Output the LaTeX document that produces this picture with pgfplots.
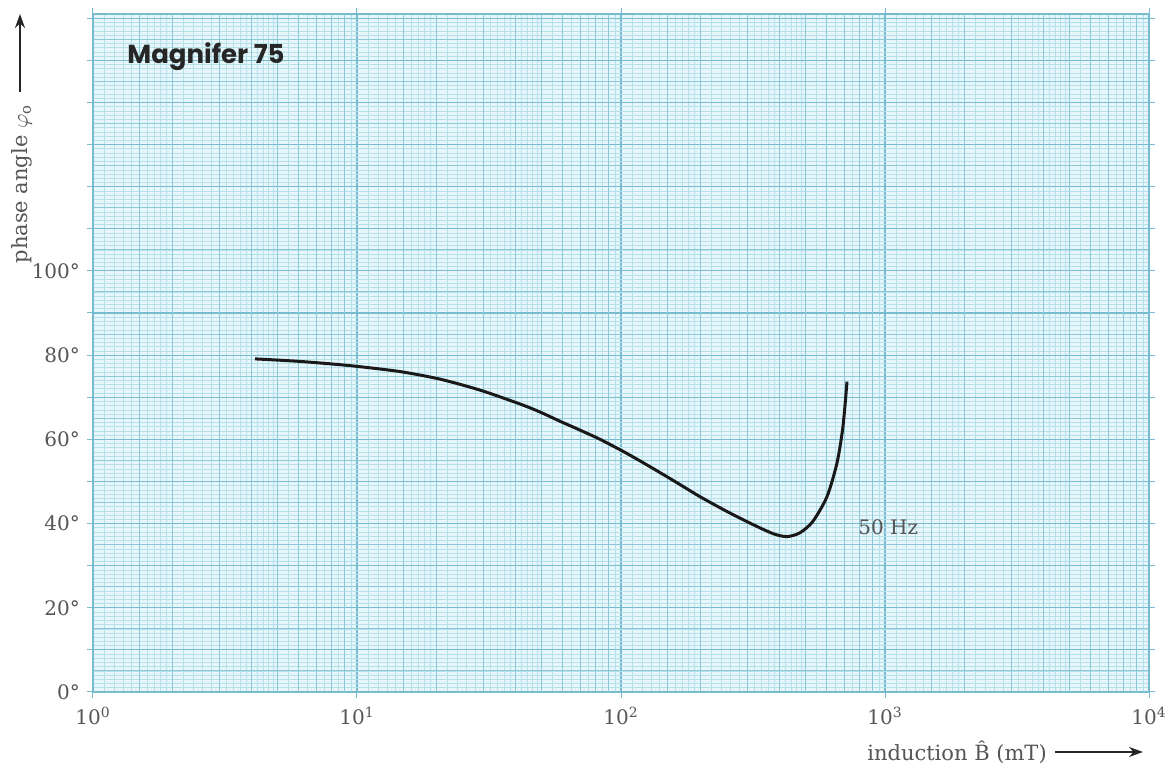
\documentclass[border=0pt]{standalone}
\usepackage{pgfplots}
\pgfplotsset{compat=1.18}
\usepackage{fontspec}
\setmainfont{DejaVu Serif}
\newfontfamily\titlefont{Poppins}
\usetikzlibrary{arrows.meta}
\definecolor{bgc}{RGB}{230,246,250}
\definecolor{gridfine}{RGB}{182,224,234}
\definecolor{gridmed}{RGB}{140,201,216}
\definecolor{griddark}{RGB}{118,188,206}
\definecolor{curvec}{RGB}{25,25,25}
\definecolor{lab}{RGB}{85,85,85}
\begin{document}
\begin{tikzpicture}
\path[use as bounding box] (-46.5pt,-39pt) rectangle (539.5pt,346pt);
\begin{axis}[
  at={(0pt,0pt)}, anchor=south west, scale only axis,
  width=528pt, height=339pt,
  xmode=log, log basis x=10,
  xmin=1, xmax=10000, ymin=0, ymax=161,
  axis background/.style={fill=bgc},
  axis line style={griddark, line width=0.6pt},
  xtick={1,10,100,1000,10000},
  xticklabels={10\textsuperscript{0},10\textsuperscript{1},10\textsuperscript{2},10\textsuperscript{3},10\textsuperscript{4}},
  minor xtick={1.1,1.2,1.3,1.4,1.6,1.7,1.8,1.9,2.2,2.4,2.6,2.8,3.2,3.4,3.6,3.8,4.2,4.4,4.6,4.8,5.5,6.5,7.5,8.5,9.5,
    11,12,13,14,16,17,18,19,22,24,26,28,32,34,36,38,42,44,46,48,55,65,75,85,95,
    110,120,130,140,160,170,180,190,220,240,260,280,320,340,360,380,420,440,460,480,550,650,750,850,950,
    1100,1200,1300,1400,1600,1700,1800,1900,2200,2400,2600,2800,3200,3400,3600,3800,4200,4400,4600,4800,5500,6500,7500,8500,9500},
  extra x ticks={1.5,2,3,4,5,6,7,8,9,15,20,30,40,50,60,70,80,90,150,200,300,400,500,600,700,800,900,1500,2000,3000,4000,5000,6000,7000,8000,9000},
  extra x tick labels={},
  ytick={0,10,...,160},
  yticklabels={0°,{},20°,{},40°,{},60°,{},80°,{},100°,{},{},{},{},{},{}},
  minor y tick num=9,
  extra y ticks={5,15,25,35,45,55,65,75,85,95,105,115,125,135,145,155},
  extra y tick labels={},
  extra tick style={grid=major, major grid style={gridmed, line width=0.45pt}, major tick length=0pt},
  grid=both,
  major grid style={griddark, line width=0.55pt},
  minor grid style={gridfine, line width=0.3pt},
  tick align=outside,
  major tick length=3pt, minor tick length=0pt,
  tick style={griddark, line width=0.5pt},
  tick label style={font=\fontsize{10}{12}\selectfont, text=lab},
  xticklabel style={yshift=-1pt},
]
\addplot[curvec, line width=1.5pt, smooth, tension=0.45] coordinates {
(4.11,79.1) (6.08,78.5) (9.4,77.5) (14.5,76.1) (20.6,74.3) (29.2,71.7) (41.4,68.4)
(49.3,66.5) (58.7,64.3) (69.9,62.2) (83.3,60.0) (103.5,56.9) (128.8,53.5) (160,50.0)
(199,46.4) (248,43.1) (308,40.1) (377,37.6) (425,36.9)
(476,37.8) (533,40.5) (603,46.4) (658,54.4) (693,63.0) (718,73.7)
};
\end{axis}
\node[anchor=base west, inner sep=0pt, font=\titlefont\bfseries\fontsize{13}{15}\selectfont, text=black!85] at (17pt,314pt) {Magnifer 75};
\node[anchor=base west, inner sep=0pt, font=\fontsize{10}{12}\selectfont, text=lab] at (382.5pt,78.5pt) {50 Hz};
\node[font=\fontsize{10.5}{12}\selectfont, text=lab] at (432pt,-30pt) {induction \^{B} (mT)};
\draw[-{Stealth[length=7pt,width=5pt]}, line width=1pt, black!85] (481pt,-30pt) -- (525pt,-30pt);
\node[rotate=90, font=\fontsize{10.5}{12}\selectfont, text=lab] at (-35.5pt,254pt) {phase angle $\varphi_{\mathrm{o}}$};
\draw[-{Stealth[length=7pt,width=5pt]}, line width=1pt, black!85] (-36.5pt,300pt) -- (-36.5pt,339pt);
\end{tikzpicture}
\end{document}
